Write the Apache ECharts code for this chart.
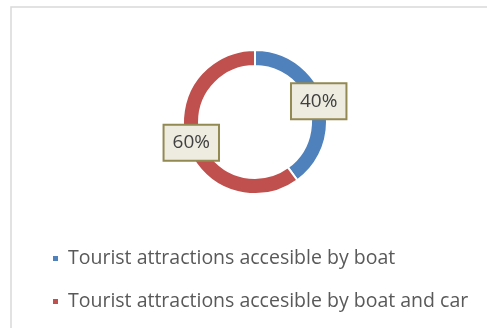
<!DOCTYPE html>
<html>
<head>
<meta charset="utf-8">
<script src="https://cdn.jsdelivr.net/npm/echarts@6/dist/echarts.min.js"></script>
<style>
html,body{margin:0;padding:0;background:#fff;}
#chart{width:487px;height:328px;}
</style>
</head>
<body>
<div id="chart"></div>
<script>
const categories = ['Tourist attractions accesible by boat', 'Tourist attractions accesible by boat and car'];
const values = [40, 60];
const colors = ['#4F81BD', '#C0504D'];

const chart = echarts.init(document.getElementById('chart'), null, {renderer: 'canvas'});
const FONT = '"Open Sans", "Noto Sans", sans-serif';
chart.setOption({
  animation: false,
  backgroundColor: '#ffffff',
  graphic: [{
    type: 'rect',
    silent: true,
    shape: {x: 11, y: 7, width: 490, height: 340},
    style: {fill: 'none', stroke: '#d9d9d9', lineWidth: 1.5}
  }],
  legend: {
    orient: 'vertical',
    left: 51,
    top: 247,
    padding: 0,
    itemWidth: 7,
    itemHeight: 7,
    itemGap: 20,
    icon: 'rect',
    data: categories,
    textStyle: {fontFamily: FONT, fontSize: 19.5, color: '#595959', padding: [0, 0, 0, 4], lineHeight: 23}
  },
  series: [{
    type: 'pie',
    center: [255, 122],
    radius: [56, 72],
    startAngle: 90,
    clockwise: true,
    avoidLabelOverlap: false,
    itemStyle: {borderColor: '#ffffff', borderWidth: 2},
    label: {
      show: true,
      position: 'inside',
      formatter: p => p.value + '%',
      fontFamily: FONT,
      fontSize: 19,
      color: '#404040',
      backgroundColor: '#EEECE1',
      borderColor: '#938953',
      borderWidth: 2,
      padding: [8, 8, 7, 8]
    },
    labelLine: {show: false},
    data: categories.map((c, i) => ({name: c, value: values[i], itemStyle: {color: colors[i]}}))
  }]
});
</script>
</body>
</html>
